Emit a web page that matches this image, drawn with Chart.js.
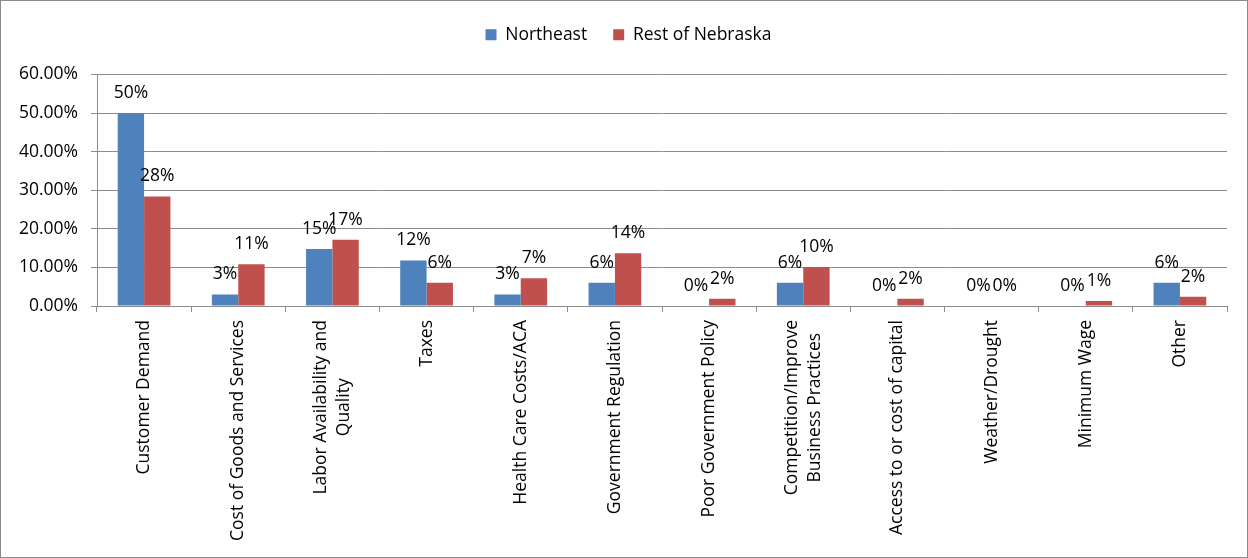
<!DOCTYPE html>
<html>
<head>
<meta charset="utf-8">
<script src="https://cdn.jsdelivr.net/npm/chart.js@4"></script>
<style>
  html, body { margin: 0; padding: 0; background: #fff; }
  #wrap { width: 1248px; height: 558px; }
</style>
</head>
<body>
<div id="wrap"><canvas id="factorChart" width="1248" height="558"></canvas></div>
<script>
const ctx = document.getElementById("factorChart");

const categories = [
  "Customer Demand",
  "Cost of Goods and Services",
  ["Labor Availability and", "Quality"],
  "Taxes",
  "Health Care Costs/ACA",
  "Government Regulation",
  "Poor Government Policy",
  ["Competition/Improve", "Business Practices"],
  "Access to or cost of capital",
  "Weather/Drought",
  "Minimum Wage",
  "Other",
];

const northeast = [50.0, 3.0, 14.8, 11.8, 3.0, 6.0, 0, 6.0, 0, 0, 0, 6.0];
const restOfNebraska = [28.4, 10.8, 17.2, 6.0, 7.2, 13.7, 1.9, 10.1, 1.9, 0, 1.3, 2.4];

const yTicks = [0, 10, 20, 30, 40, 50, 60];

const FONT = "'Open Sans', sans-serif";
const FONT_SIZE = 17.5;
const GRID = "#8c8c8c";

// white page with a thin grey frame around the whole chart
const frame = {
  id: "frame",
  beforeDraw(chart) {
    const c = chart.ctx;
    c.save();
    c.fillStyle = "#fff";
    c.fillRect(0, 0, chart.width, chart.height);
    c.restore();
    // centre the legend over the page rather than the padded box
    chart.legend.left = 9;
    chart.legend.right = chart.width;
  },
  afterDraw(chart) {
    const c = chart.ctx;
    c.save();
    c.strokeStyle = "#8a8a8a";
    c.lineWidth = 1;
    c.strokeRect(0.5, 0.5, chart.width - 1, chart.height - 1);
    c.restore();
  },
};

// extra room between the legend and the plot
const legendGap = {
  id: "legendGap",
  beforeLayout(chart) {
    const legend = chart.legend;
    if (legend && !legend.gapAdded) {
      const fit = legend.fit.bind(legend);
      legend.fit = function () {
        fit();
        this.height += 21;
      };
      legend.gapAdded = true;
    }
  },
};

// percentage above each bar
const barLabels = {
  id: "barLabels",
  afterDatasetsDraw(chart) {
    const c = chart.ctx;
    c.save();
    c.font = FONT_SIZE + "px " + FONT;
    c.fillStyle = "#000";
    c.textAlign = "center";
    c.textBaseline = "middle";
    chart.data.datasets.forEach((ds, di) => {
      chart.getDatasetMeta(di).data.forEach((bar, i) => {
        c.fillText(Math.round(ds.data[i]) + "%", bar.x, bar.y - 20);
      });
    });
    c.restore();
  },
};

// vertical category names, lines centred on each other
const categoryNames = {
  id: "categoryNames",
  afterDraw(chart) {
    const c = chart.ctx;
    const xScale = chart.scales.x;
    const top = xScale.top + 14;
    const lineHeight = 23;
    c.save();
    c.font = FONT_SIZE + "px " + FONT;
    c.fillStyle = "#000";
    c.textAlign = "center";
    c.textBaseline = "middle";
    categories.forEach((label, i) => {
      const lines = Array.isArray(label) ? label : [label];
      const longest = Math.max(...lines.map((l) => c.measureText(l).width));
      c.save();
      c.translate(xScale.getPixelForValue(i), top);
      c.rotate(-Math.PI / 2);
      lines.forEach((line, li) => {
        c.fillText(line, -longest / 2, (li - (lines.length - 1) / 2) * lineHeight);
      });
      c.restore();
    });
    c.restore();
  },
};

new Chart(ctx, {
  type: "bar",
  data: {
    labels: categories,
    datasets: [
      {
        label: "Northeast",
        data: northeast,
        backgroundColor: "#4F81BD",
        categoryPercentage: 0.56,
        barPercentage: 1.0,
      },
      {
        label: "Rest of Nebraska",
        data: restOfNebraska,
        backgroundColor: "#C0504D",
        categoryPercentage: 0.56,
        barPercentage: 1.0,
      },
    ],
  },
  options: {
    responsive: false,
    animation: false,
    events: [],
    layout: {
      padding: { left: 0, right: 21, top: 0, bottom: 2 },
    },
    plugins: {
      legend: {
        position: "top",
        labels: {
          boxWidth: 11,
          boxHeight: 11,
          padding: 26,
          color: "#000",
          font: { family: FONT, size: FONT_SIZE },
        },
      },
      tooltip: { enabled: false },
    },
    scales: {
      x: {
        offset: true,
        grid: {
          offset: true,
          drawOnChartArea: false,
          drawTicks: true,
          tickLength: 6,
          color: GRID,
        },
        border: { display: true, color: GRID },
        ticks: { display: false },
        afterFit(scale) {
          scale.height = 250;
        },
      },
      y: {
        min: yTicks[0],
        max: yTicks[yTicks.length - 1],
        afterBuildTicks(scale) {
          scale.ticks = yTicks.map((v) => ({ value: v }));
        },
        grid: {
          color: GRID,
          tickLength: 6,
        },
        border: { display: true, color: GRID },
        ticks: {
          padding: 13,
          color: "#000",
          font: { family: FONT, size: FONT_SIZE },
          callback: (v) => v.toFixed(2) + "%",
        },
        afterFit(scale) {
          scale.width = 97;
        },
      },
    },
  },
  plugins: [frame, legendGap, barLabels, categoryNames],
});
</script>
</body>
</html>
